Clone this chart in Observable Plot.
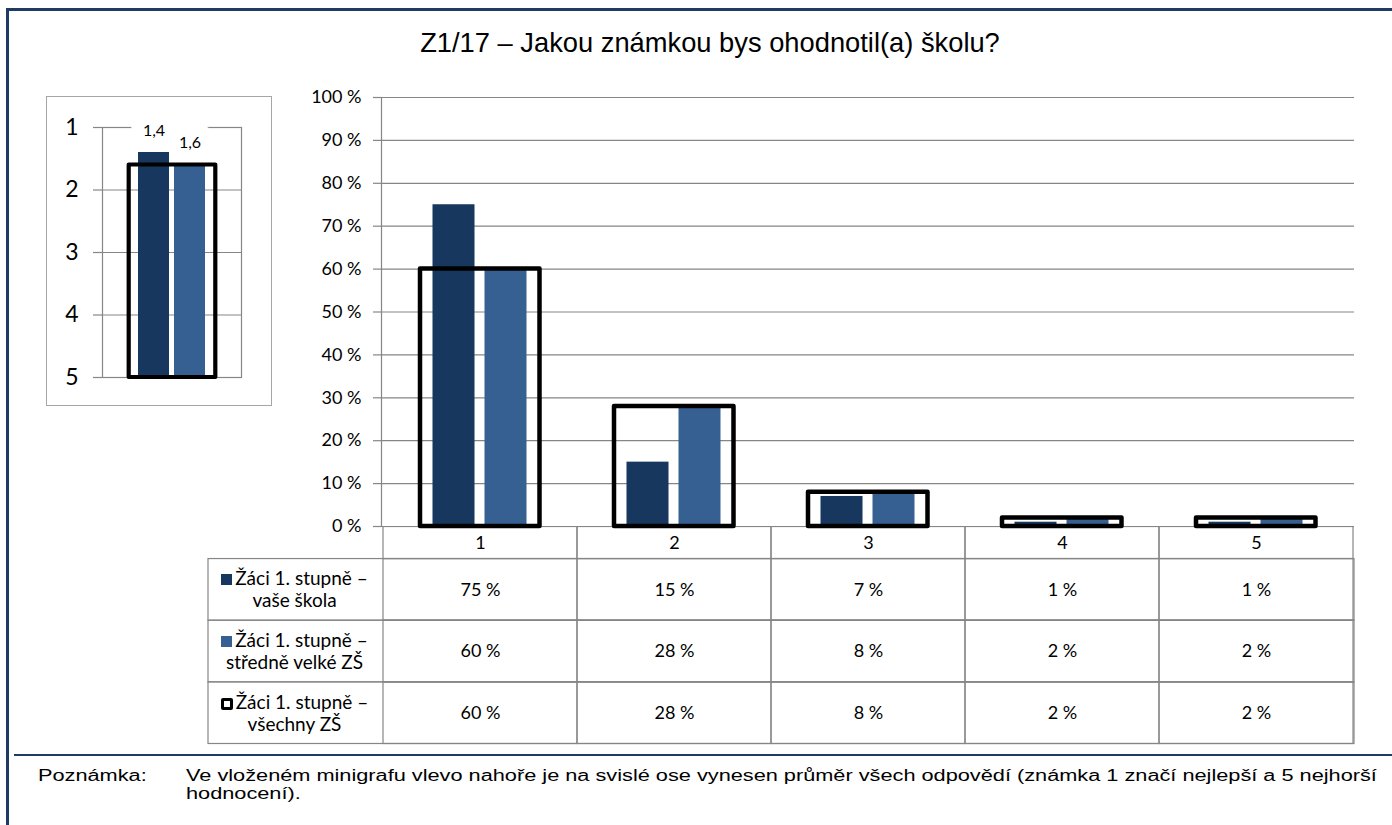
<!DOCTYPE html>
<html><head><meta charset="utf-8">
<script src="https://cdn.jsdelivr.net/npm/d3@7"></script>
<script src="https://cdn.jsdelivr.net/npm/@observablehq/plot@0.6"></script>
<style>
html,body{margin:0;padding:0;background:#fff;}
#root{position:relative;width:1392px;height:825px;overflow:hidden;background:#fff;font-family:Lato,"Open Sans",sans-serif;color:#000;}
.abs{position:absolute;}
.hl{position:absolute;background:#1F3B63;}
#title{position:absolute;left:0;top:27px;width:1420px;text-align:center;font-family:"Liberation Sans",Arial,sans-serif;font-size:27.3px;white-space:nowrap;}
.note{position:absolute;font-family:"Liberation Sans",Arial,sans-serif;font-size:16px;white-space:nowrap;line-height:18px;transform-origin:0 0;}
.leg{position:absolute;display:flex;flex-direction:column;align-items:center;justify-content:center;font-size:19px;line-height:22px;text-align:center;white-space:nowrap;}
.sw{display:inline-block;width:11px;height:11px;margin-right:3px;vertical-align:0px;}
</style></head><body><div id="root"></div>
<script>
// ---- data ----
const categories = ["1", "2", "3", "4", "5"];
const seriesLabels = [
  ["Žáci 1. stupně –", "vaše škola"],
  ["Žáci 1. stupně –", "středně velké ZŠ"],
  ["Žáci 1. stupně –", "všechny ZŠ"]
];
const yourSchool = [0.75, 0.15, 0.07, 0.01, 0.01];
const mediumSchools = [0.60, 0.28, 0.08, 0.02, 0.02];
const allSchools = [0.60, 0.28, 0.08, 0.02, 0.02];
const meanGrades = [1.4, 1.6, 1.6];
const yTicks = [0, 0.1, 0.2, 0.3, 0.4, 0.5, 0.6, 0.7, 0.8, 0.9, 1];
const miniTicks = [1, 2, 3, 4, 5];
const titleText = "Z1/17 – Jakou známkou bys ohodnotil(a) školu?";
const noteLabel = "Poznámka:";
const noteLines = ["Ve vloženém minigrafu vlevo nahoře je na svislé ose vynesen průměr všech odpovědí (známka 1 značí nejlepší a 5 nejhorší", "hodnocení)."];

const colDark = "#17375E", colLight = "#376092", gridCol = "#868686";
const seriesSeries = [yourSchool, mediumSchools, allSchools];
const pct = d => Math.round(d * 100) + " %";
const dec = d => d.toFixed(1).replace(".", ",");

const root = document.getElementById("root");
function add(html){ const t = document.createElement("div"); t.innerHTML = html; const e = t.firstChild; root.appendChild(e); return e; }

// frame lines
add(`<div class="hl" style="left:6px;top:8px;width:3px;height:817px"></div>`);
add(`<div class="hl" style="left:6px;top:8px;width:1386px;height:3px"></div>`);
add(`<div class="hl" style="left:14px;top:754px;width:1378px;height:2px"></div>`);

const title = add(`<div id="title"></div>`); title.textContent = titleText;

// ---- table (drawn first, under the main chart) ----
const rowBounds = [0, 0.52, 1.52, 2.52, 3.52];
const cells = [];
seriesSeries.forEach((arr, si) => arr.forEach((v, ci) => cells.push({cat: categories[ci], v, y1: rowBounds[si + 1], y2: rowBounds[si + 2]})));
const table = Plot.plot({
  width: 1392, height: 219, marginLeft: 208, marginRight: 38, marginTop: 0, marginBottom: 0,
  style: {background: "transparent", fontFamily: "Lato, sans-serif", fontSize: "18px", color: "#000"},
  x: {type: "band", domain: categories, range: [381, 1354], padding: 0, axis: null},
  y: {domain: [0, 3.52], range: [0.5, 217.5], axis: null},
  marks: [
    Plot.rect([0, 1, 2], {y1: i => rowBounds[i + 1], y2: i => rowBounds[i + 2], fill: "none", stroke: gridCol, strokeWidth: 1.2}),
    Plot.barY(categories, {x: d => d, y1: () => rowBounds[0], y2: () => rowBounds[1], fill: "none", stroke: gridCol, strokeWidth: 1.2}),
    Plot.barY(cells, {x: "cat", y1: "y1", y2: "y2", fill: "none", stroke: gridCol, strokeWidth: 1.2}),
    Plot.text(categories, {x: d => d, y: () => (rowBounds[0] + rowBounds[1]) / 2, text: d => d, fill: "#000", fontSize: 18}),
    Plot.text(cells, {x: "cat", y: d => (d.y1 + d.y2) / 2, text: d => pct(d.v), fill: "#000", fontSize: 18})
  ]
});
table.style.position = "absolute"; table.style.left = "0px"; table.style.top = "526px";
root.appendChild(table);

// ---- main chart ----
const rows = categories.map((c, i) => ({cat: c, a: yourSchool[i], b: mediumSchools[i], c: allSchools[i]}));
const main = Plot.plot({
  width: 1392, height: 546, marginLeft: 381, marginRight: 38, marginTop: 97, marginBottom: 20,
  style: {background: "transparent", fontFamily: "Lato, sans-serif", fontSize: "18px", color: "#000"},
  x: {type: "band", domain: categories, padding: 0, axis: null},
  y: {domain: [0, 1], axis: null},
  marks: [
    Plot.gridY(yTicks, {stroke: gridCol, strokeOpacity: 1, strokeWidth: 1.2}),
    Plot.axisY(yTicks, {tickSize: 8, tickPadding: 12, tickFormat: pct, label: null, stroke: gridCol, strokeWidth: 1.2, fill: "#000", fontSize: 18}),
    Plot.frame({anchor: "left", stroke: gridCol, strokeWidth: 1.2}),
    Plot.barY(rows, {x: "cat", y: "a", fill: colDark, insetLeft: 49.5, insetRight: 102.5}),
    Plot.barY(rows, {x: "cat", y: "b", fill: colLight, insetLeft: 101.5, insetRight: 50.5}),
    Plot.barY(rows, {x: "cat", y: "c", fill: "none", stroke: "#000", strokeWidth: 4.5, strokeLinejoin: "round", insetLeft: 37, insetRight: 37.5})
  ]
});
main.style.position = "absolute"; main.style.left = "0px"; main.style.top = "0px";
root.appendChild(main);

// legend column
const ty = table.scale("y");
const swatches = [
  `<span class="sw" style="background:${colDark}"></span>`,
  `<span class="sw" style="background:${colLight}"></span>`,
  `<span class="sw" style="width:6px;height:6px;border:3.5px solid #000;border-radius:2px;background:#fff;vertical-align:-1px"></span>`
];
seriesLabels.forEach((lines, i) => {
  const top = 526 + ty.apply(rowBounds[i + 1]);
  const bot = 526 + ty.apply(rowBounds[i + 2]);
  const d = add(`<div class="leg"></div>`);
  d.style.left = "208px"; d.style.width = "173px"; d.style.top = top + "px"; d.style.height = (bot - top) + "px";
  d.innerHTML = `<div>${swatches[i]}${lines[0]}</div><div>${lines[1]}</div>`;
});

// ---- mini chart ----
add(`<div class="abs" style="left:46px;top:96px;width:224px;height:308px;border:1px solid #a6a6a6"></div>`);
const miniBars = [{s: "a", v: meanGrades[0], c: colDark}, {s: "b", v: meanGrades[1], c: colLight}];
const mini = Plot.plot({
  width: 226, height: 310, marginLeft: 56, marginRight: 31, marginTop: 31, marginBottom: 29,
  style: {background: "transparent", fontFamily: "Lato, sans-serif", fontSize: "16px", color: "#000"},
  x: {type: "band", domain: ["a", "b"], paddingInner: 0.135, paddingOuter: 0.946, axis: null},
  y: {domain: [5, 1], axis: null},
  marks: [
    Plot.gridY(miniTicks, {stroke: gridCol, strokeOpacity: 1, strokeWidth: 1.2}),
    Plot.axisY(miniTicks, {tickSize: 9, tickPadding: 15, tickFormat: d => String(d), label: null, stroke: gridCol, strokeWidth: 1.2, fill: "#000", fontSize: 23}),
    Plot.frame({stroke: gridCol, strokeWidth: 1.2}),
    Plot.text(miniBars, {x: "s", y: "v", text: d => dec(d.v), dy: -22, fontSize: 16, fill: "#000", stroke: "#fff", strokeWidth: 26}),
    Plot.barY(miniBars, {x: "s", y1: () => miniTicks[miniTicks.length - 1], y2: "v", fill: "c"}),
    Plot.barY([meanGrades[2]], {y1: () => miniTicks[miniTicks.length - 1], y2: d => d, fill: "none", stroke: "#000", strokeWidth: 4.2, strokeLinejoin: "round", insetLeft: 26.7, insetRight: 25.7})
  ]
});
mini.style.position = "absolute"; mini.style.left = "46px"; mini.style.top = "96px";
root.appendChild(mini);

// ---- note ----
const nl = add(`<div class="note" style="left:38px;top:767px"></div>`); nl.textContent = noteLabel;
const nt = add(`<div class="note" style="left:186px;top:767px"></div>`);
nt.innerHTML = noteLines.map(l => `<div>${l}</div>`).join("");
const w = nt.firstChild.scrollWidth;
const k = w > 0 ? 1191 / w : 1;
nl.style.transform = `scaleX(${k})`;
nt.style.transform = `scaleX(${k})`;
</script>
</body></html>
